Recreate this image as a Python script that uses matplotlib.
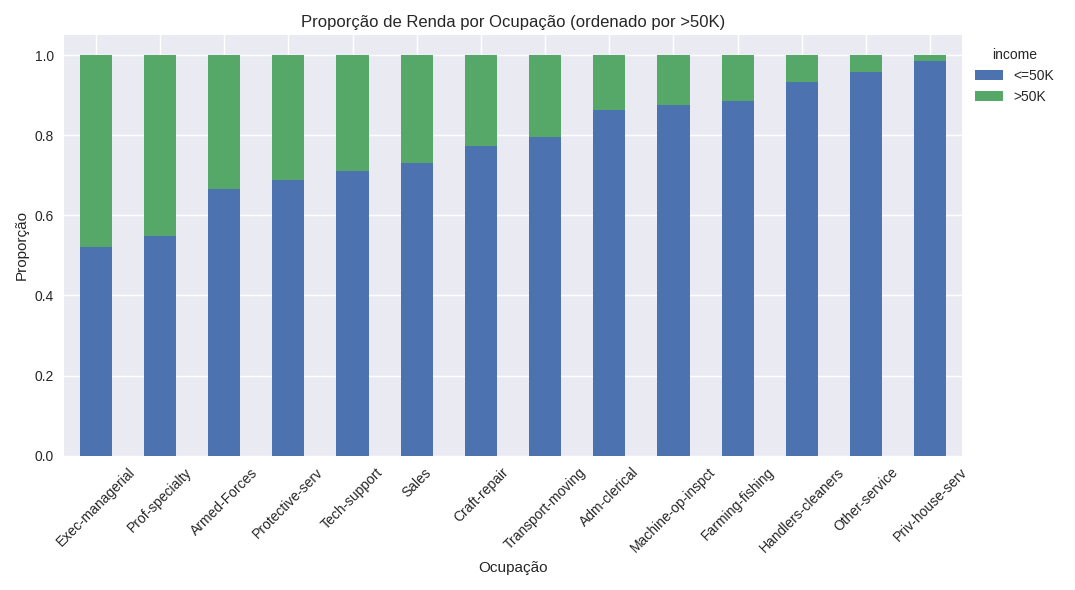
import matplotlib
matplotlib.use("Agg")
import matplotlib.pyplot as plt
import numpy as np

plt.style.use("seaborn-v0_8")
plt.rcParams["font.family"] = "Liberation Sans"

occupations = ["Exec-managerial", "Prof-specialty", "Armed-Forces", "Protective-serv",
               "Tech-support", "Sales", "Craft-repair", "Transport-moving", "Adm-clerical",
               "Machine-op-inspct", "Farming-fishing", "Handlers-cleaners", "Other-service",
               "Priv-house-serv"]
le50k = [0.520, 0.549, 0.667, 0.688, 0.710, 0.731, 0.773, 0.796, 0.863,
         0.877, 0.885, 0.934, 0.958, 0.987]
gt50k = [1 - v for v in le50k]

fig, ax = plt.subplots(figsize=(10.75, 5.9), dpi=100)
x = np.arange(len(occupations))
ax.bar(x, le50k, 0.5, color="#4c72b0", label="<=50K")
ax.bar(x, gt50k, 0.5, bottom=le50k, color="#55a868", label=">50K")
ax.set_xticks(x)
ax.set_xticklabels(occupations, rotation=45, fontsize=10)
ax.set_xlim(-0.5, len(occupations) - 0.5)
ax.set_ylim(0, 1.05)
ax.tick_params(axis="y", labelsize=10)
ax.set_title("Proporção de Renda por Ocupação (ordenado por >50K)", fontsize=12)
ax.set_xlabel("Ocupação", fontsize=11)
ax.set_ylabel("Proporção", fontsize=11)
ax.legend(title="income", bbox_to_anchor=(1.0, 1.0), loc="upper left", fontsize=10, title_fontsize=10)
fig.tight_layout()
fig.savefig("out.png", dpi=100)
